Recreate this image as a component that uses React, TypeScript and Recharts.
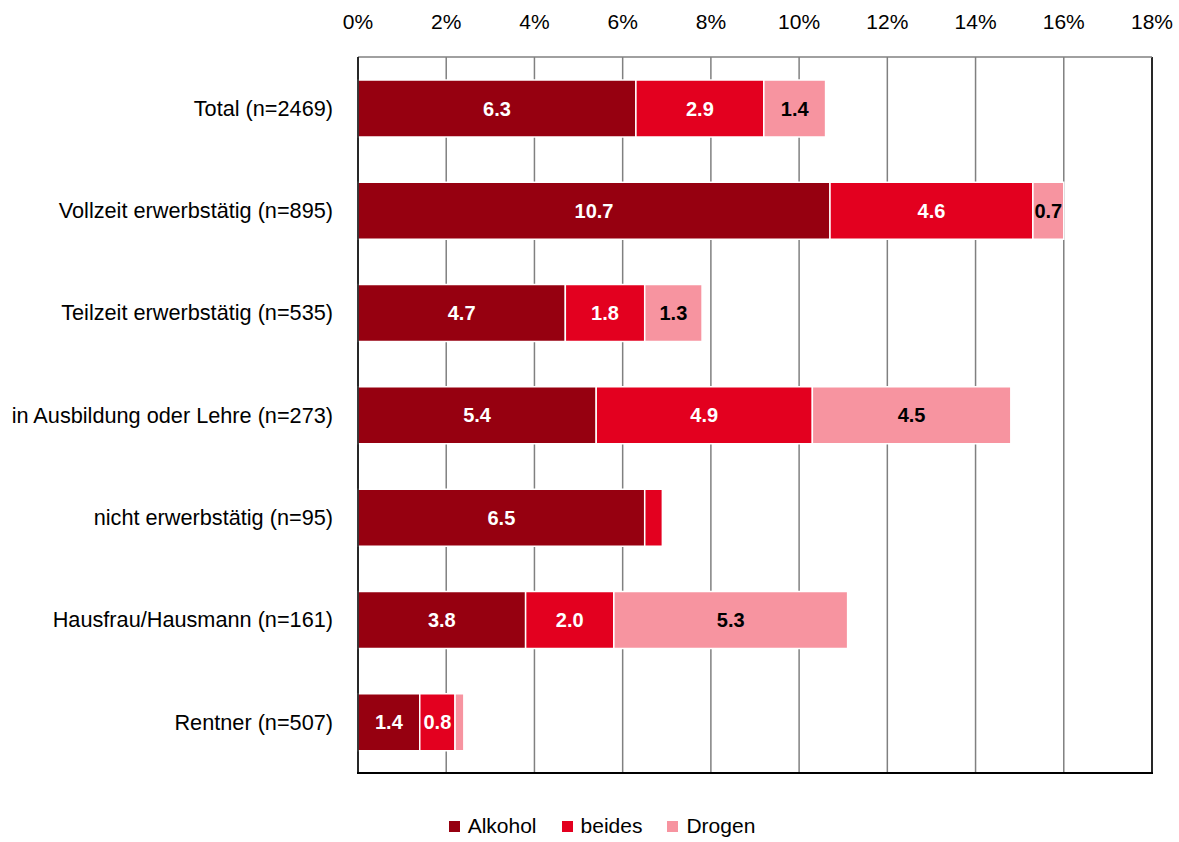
import { BarChart, Bar, XAxis, YAxis, CartesianGrid, Legend, LabelList, ReferenceLine } from "recharts";

const categories = [
  "Total (n=2469)",
  "Vollzeit erwerbstätig (n=895)",
  "Teilzeit erwerbstätig (n=535)",
  "in Ausbildung oder Lehre (n=273)",
  "nicht erwerbstätig (n=95)",
  "Hausfrau/Hausmann (n=161)",
  "Rentner (n=507)",
];
const alkohol = [6.3, 10.7, 4.7, 5.4, 6.5, 3.8, 1.4];
const beides = [2.9, 4.6, 1.8, 4.9, 0.4, 2.0, 0.8];
const drogen = [1.4, 0.7, 1.3, 4.5, 0, 5.3, 0.2];
const xTicks = [0, 2, 4, 6, 8, 10, 12, 14, 16, 18];
const seriesNames = ["Alkohol", "beides", "Drogen"];
const seriesColors = ["#960010", "#E3001F", "#F794A0"];

const data = categories.map((name, i) => ({
  name,
  Alkohol: alkohol[i],
  beides: beides[i],
  Drogen: drogen[i],
}));

const font = "'Liberation Sans', Arial, sans-serif";
const fmtLabel = (v: any) => (Number(v) >= 0.5 ? Number(v).toFixed(1) : "");

function LegendBox() {
  return (
    <div style={{ display: "flex", justifyContent: "center", alignItems: "center", fontFamily: font, fontSize: 21, color: "#000" }}>
      {seriesNames.map((n, i) => (
        <div key={n} style={{ display: "flex", alignItems: "center", marginRight: i < 2 ? 25 : 0 }}>
          <span style={{ display: "inline-block", width: 11, height: 11, background: seriesColors[i], marginRight: 8 }} />
          <span>{n}</span>
        </div>
      ))}
    </div>
  );
}

export default function App() {
  return (
    <div style={{ position: "absolute", left: 0, top: 0, background: "#fff" }}>
      <BarChart
        width={1179}
        height={842}
        data={data}
        layout="vertical"
        margin={{ top: 27, right: 27, bottom: 69, left: 0 }}
        barSize={57}
      >
        <CartesianGrid horizontal={false} stroke="#808080" strokeWidth={1.5} />
        <XAxis
          type="number"
          orientation="top"
          domain={[0, 18]}
          ticks={xTicks}
          tickFormatter={(v) => `${v}%`}
          tick={{ fill: "#000", fontSize: 21, fontFamily: font }}
          tickLine={false}
          tickSize={0}
          tickMargin={28}
          axisLine={{ stroke: "#808080", strokeWidth: 1.5 }}
        />
        <YAxis
          type="category"
          dataKey="name"
          width={358}
          tick={{ fill: "#000", fontSize: 21.7, fontFamily: font }}
          tickLine={false}
          tickSize={0}
          tickMargin={25}
          axisLine={{ stroke: "#000", strokeWidth: 1.5 }}
        />
        <ReferenceLine x={18} stroke="#000" strokeWidth={1.5} />
        <Bar dataKey="Alkohol" stackId="a" fill={seriesColors[0]} stroke="#fff" strokeWidth={1.5} isAnimationActive={false}>
          <LabelList dataKey="Alkohol" position="center" formatter={fmtLabel} fill="#fff" fontWeight="bold" fontSize={20} fontFamily={font} />
        </Bar>
        <Bar dataKey="beides" stackId="a" fill={seriesColors[1]} stroke="#fff" strokeWidth={1.5} isAnimationActive={false}>
          <LabelList dataKey="beides" position="center" formatter={fmtLabel} fill="#fff" fontWeight="bold" fontSize={20} fontFamily={font} />
        </Bar>
        <Bar dataKey="Drogen" stackId="a" fill={seriesColors[2]} stroke="#fff" strokeWidth={1.5} isAnimationActive={false}>
          <LabelList dataKey="Drogen" position="center" formatter={fmtLabel} fill="#000" fontWeight="bold" fontSize={20} fontFamily={font} />
        </Bar>
        <Legend
          verticalAlign="middle"
          align="center"
          content={() => <LegendBox />}
          wrapperStyle={{ top: 814, left: 352, width: 500 }}
        />
      </BarChart>
      {/* bottom frame line */}
      <div style={{ position: "absolute", left: 357, top: 772, width: 796, height: 1.5, background: "#000" }} />
    </div>
  );
}
